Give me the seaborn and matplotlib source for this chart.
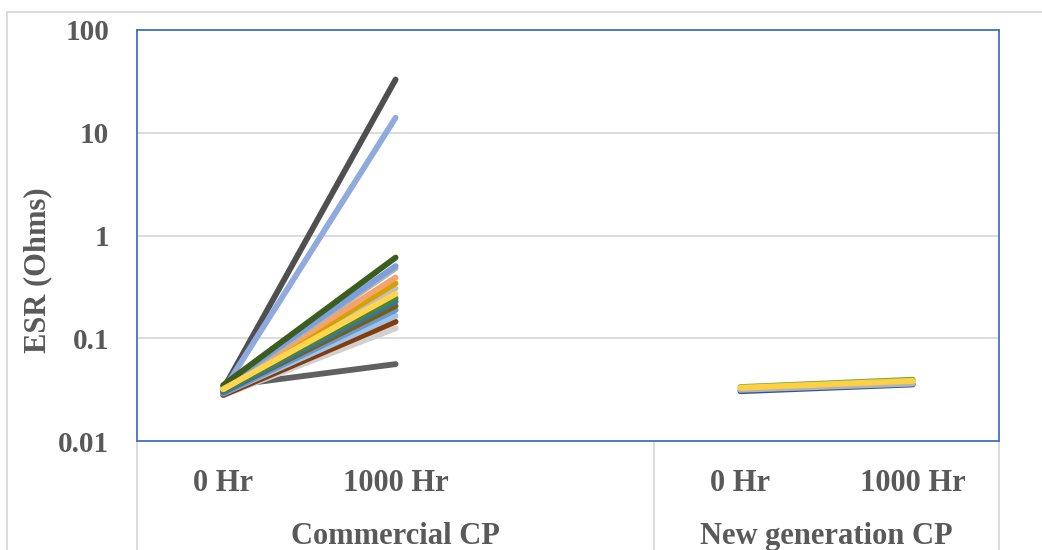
import pandas as pd
import matplotlib
matplotlib.use("Agg")
import matplotlib.pyplot as plt
import seaborn as sns
from matplotlib.patches import Rectangle

# Category layout (Excel multi-level axis; the 3rd slot is an empty category)
tick_labels = ["0 Hr", "1000 Hr", "", "0 Hr", "1000 Hr"]
group_labels = ["Commercial CP", "New generation CP"]
group_centers = [1.0, 3.5]

# Commercial CP samples: ESR at 0 Hr and 1000 Hr (Ohms)
comm_names = ["C1", "C2", "C3", "C4", "C5", "C6", "C7", "C8", "C9",
              "C10", "C11", "C12", "C13", "C14", "C15", "C16", "C17"]
comm_0hr = [0.032, 0.031, 0.034, 0.028, 0.028, 0.029, 0.029, 0.030, 0.030,
            0.031, 0.032, 0.032, 0.033, 0.033, 0.034, 0.035, 0.032]
comm_1000hr = [33.0, 14.0, 0.056, 0.125, 0.145, 0.165, 0.188, 0.206, 0.227,
               0.245, 0.306, 0.343, 0.39, 0.48, 0.505, 0.61, 0.27]
comm_colors = ["#4F4F4F", "#8FAADC", "#606060", "#D0D0D0", "#843C0C", "#9DC3E6",
               "#6B97D6", "#7F6000", "#2E75B6", "#548235", "#BFBFBF", "#D6A000",
               "#F4A46A", "#B4B4B4", "#7DA0DC", "#3B5E1F", "#FFD54F"]

# New generation CP samples
new_names = ["N1", "N2", "N3", "N4"]
new_0hr = [0.0305, 0.0315, 0.0335, 0.033]
new_1000hr = [0.0355, 0.0362, 0.0395, 0.0385]
new_colors = ["#2F5597", "#B4B4B4", "#70AD47", "#FFD044"]

rows = []
for name, a, b in zip(comm_names, comm_0hr, comm_1000hr):
    rows.append({"series": name, "pos": 0, "esr": a})
    rows.append({"series": name, "pos": 1, "esr": b})
for name, a, b in zip(new_names, new_0hr, new_1000hr):
    rows.append({"series": name, "pos": 3, "esr": a})
    rows.append({"series": name, "pos": 4, "esr": b})
df = pd.DataFrame(rows)
palette = dict(zip(comm_names + new_names, comm_colors + new_colors))

sns.set_theme(style="white")
plt.rcParams["font.family"] = ["Liberation Serif", "DejaVu Serif"]
text_color = "#595959"

fig = plt.figure(figsize=(10.42, 5.5), dpi=100)
ax = fig.add_axes([137 / 1042, 109 / 550, 862 / 1042, 411 / 550])

sns.lineplot(data=df, x="pos", y="esr", hue="series", palette=palette,
             estimator=None, sort=False, legend=False, linewidth=4.2,
             solid_capstyle="round", ax=ax)

ax.set_yscale("log")
ax.set_ylim(0.01, 100)
ax.set_xlim(-0.5, 4.5)
ax.set_yticks([0.01, 0.1, 1, 10, 100], ["0.01", "0.1", "1", "10", "100"])
ax.minorticks_off()
ax.set_xticks(range(5), tick_labels)
ax.tick_params(axis="both", length=0, labelcolor=text_color)
ax.tick_params(axis="y", pad=20, labelsize=21)
ax.tick_params(axis="x", pad=20, labelsize=22)
for lab in ax.get_xticklabels() + ax.get_yticklabels():
    lab.set_fontweight("bold")

ax.grid(axis="y", color="#D9D9D9", linewidth=1.3)
ax.grid(axis="x", visible=False)
for sp in ax.spines.values():
    sp.set_color("#4472C4")
    sp.set_linewidth(1.3)

ax.set_xlabel("")
ax.set_ylabel("ESR (Ohms)", fontsize=22, fontweight="bold", color=text_color)
ax.yaxis.set_label_coords(-0.0986, 0.416)

# group labels and category dividers below the plot area
for name, cx in zip(group_labels, group_centers):
    ax.text(cx, -0.232, name, transform=ax.get_xaxis_transform(), ha="center",
            va="center", fontsize=22, fontweight="bold", color=text_color)
for xd in [-0.5, 2.5, 4.5]:
    ax.plot([xd, xd], [0, -0.3], transform=ax.get_xaxis_transform(),
            color="#D9D9D9", linewidth=1.3, clip_on=False)

# outer chart border
fig.add_artist(Rectangle((7 / 1042, -0.1), 1.2, 1 - 12 / 550 + 0.1,
                         transform=fig.transFigure, fill=False,
                         edgecolor="#D9D9D9", linewidth=1.3))

fig.savefig("out.png", dpi=100)
